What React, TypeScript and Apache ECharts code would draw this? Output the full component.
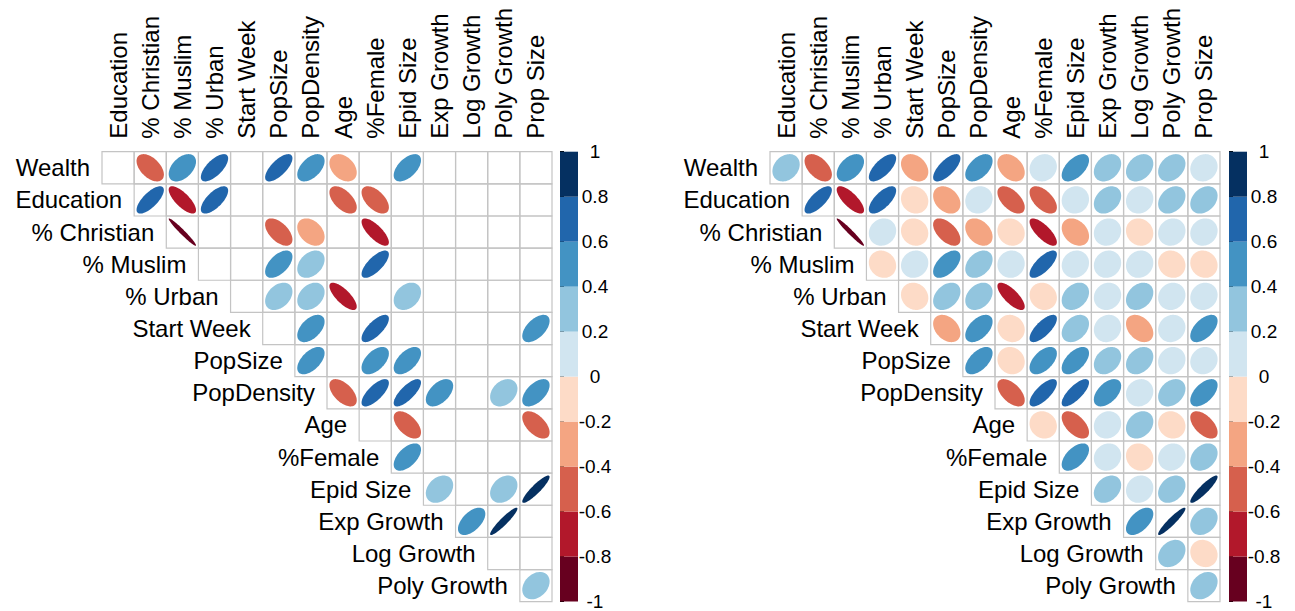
import React, { useEffect, useRef } from "react";
import * as echarts from "echarts";

const FONT = "'Liberation Sans', Arial, sans-serif";

const colNames = ["Education", "% Christian", "% Muslim", "% Urban", "Start Week", "PopSize", "PopDensity", "Age", "%Female", "Epid Size", "Exp Growth", "Log Growth", "Poly Growth", "Prop Size"];
const rowNames = ["Wealth", "Education", "% Christian", "% Muslim", "% Urban", "Start Week", "PopSize", "PopDensity", "Age", "%Female", "Epid Size", "Exp Growth", "Log Growth", "Poly Growth"];

// correlations, upper triangle: row i starts at column i
const wealth = [0.25, -0.5, 0.45, 0.68, -0.3, 0.7, 0.5, -0.35, 0.1, 0.55, 0.3, 0.3, 0.3, 0.1];
const education = [0.72, -0.75, 0.68, -0.1, -0.3, 0.1, -0.55, -0.55, 0.05, 0.3, 0.1, 0.3, 0.3];
const christian = [-0.97, 0.1, -0.1, -0.55, -0.35, -0.1, -0.75, -0.3, 0.1, -0.1, 0.1, 0.1];
const muslim = [-0.12, 0.1, 0.55, 0.35, 0.05, 0.72, 0.1, 0.1, 0.1, -0.1, -0.1];
const urban = [-0.12, 0.35, 0.32, -0.75, -0.1, 0.3, 0.1, 0.28, 0.1, 0.1];
const startWeek = [-0.35, 0.5, -0.1, 0.72, 0.35, 0.1, -0.35, 0.1, 0.55];
const popSize = [0.55, -0.1, 0.52, 0.55, 0.3, 0.3, 0.1, 0.1];
const popDensity = [-0.55, 0.72, 0.75, 0.5, 0.1, 0.3, 0.55];
const age = [-0.1, -0.55, 0.1, 0.25, -0.1, -0.55];
const female = [0.55, 0.1, -0.1, 0.1, 0.3];
const epidSize = [0.3, 0.1, 0.3, 0.9];
const expGrowth = [0.55, 0.93, 0.28];
const logGrowth = [0.28, -0.12];
const polyGrowth = [0.3];
const corrRows = [wealth, education, christian, muslim, urban, startWeek, popSize, popDensity, age, female, epidSize, expGrowth, logGrowth, polyGrowth];

// significant cells (column indices) shown in the left panel
const sigWealth = [1, 2, 3, 5, 6, 7, 9];
const sigEducation = [1, 2, 3, 7, 8];
const sigChristian = [2, 5, 6, 8];
const sigMuslim = [5, 6, 8];
const sigUrban = [5, 6, 7, 9];
const sigStartWeek = [6, 8, 13];
const sigPopSize = [6, 8, 9];
const sigPopDensity = [7, 8, 9, 10, 12, 13];
const sigAge = [9, 13];
const sigFemale = [9];
const sigEpidSize = [10, 12, 13];
const sigExpGrowth = [11, 12];
const sigLogGrowth: number[] = [];
const sigPolyGrowth = [13];
const sigRows = [sigWealth, sigEducation, sigChristian, sigMuslim, sigUrban, sigStartWeek, sigPopSize, sigPopDensity, sigAge, sigFemale, sigEpidSize, sigExpGrowth, sigLogGrowth, sigPolyGrowth];

const legendTicks = [-1, -0.8, -0.6, -0.4, -0.2, 0, 0.2, 0.4, 0.6, 0.8, 1];
const binColors = ["#67001F", "#B2182B", "#D6604D", "#F4A582", "#FDDBC7", "#D1E5F0", "#92C5DE", "#4393C3", "#2166AC", "#053061"];

function colorFor(r: number): string {
  let k = Math.floor((r + 1) / 0.2);
  if (k < 0) k = 0;
  if (k > 9) k = 9;
  return binColors[k];
}

function cellData(panel: number) {
  const out: any[] = [];
  corrRows.forEach((row, i) => {
    row.forEach((r, k) => {
      const j = i + k;
      const shown = panel === 1 || sigRows[i].indexOf(j) >= 0 ? 1 : 0;
      out.push([j, i, r, shown]);
    });
  });
  return out;
}

const cellRender = (params: any, api: any) => {
  const j = api.value(0);
  const i = api.value(1);
  const r = api.value(2);
  const shown = api.value(3);
  const c = api.coord([j, i]);
  const s = api.size([1, 1]);
  const w = s[0];
  const h = s[1];
  const children: any[] = [
    {
      type: "rect",
      shape: { x: c[0] - w / 2, y: c[1] - h / 2, width: w, height: h },
      style: { fill: "transparent", stroke: "#C4C4C4", lineWidth: 1.2 },
    },
  ];
  if (shown) {
    const a = Math.acos(Math.max(-1, Math.min(1, r)));
    const pts: number[][] = [];
    const n = 80;
    for (let k = 0; k < n; k++) {
      const t = (k / n) * 2 * Math.PI;
      pts.push([c[0] + 0.425 * Math.cos(t + a / 2) * w, c[1] - 0.425 * Math.cos(t - a / 2) * h]);
    }
    children.push({ type: "polygon", shape: { points: pts }, style: { fill: colorFor(r), stroke: null } });
  }
  return { type: "group", children };
};

const textStyle = (text: string, align: string) => ({
  text,
  fontSize: 24,
  fontFamily: FONT,
  fill: "#000",
  align,
  verticalAlign: "middle",
  textAlign: align,
  textVerticalAlign: "middle",
});

const rowLabelRender = (params: any, api: any) => {
  const i = api.value(1);
  const c = api.coord([i, i]);
  const s = api.size([1, 1]);
  return {
    type: "text",
    x: c[0] - s[0] / 2 - 12,
    y: c[1],
    style: textStyle(rowNames[params.dataIndex], "right"),
  };
};

const colLabelRender = (params: any, api: any) => {
  const j = api.value(0);
  const c = api.coord([j, 0]);
  const s = api.size([1, 1]);
  return {
    type: "text",
    x: c[0],
    y: c[1] - s[1] / 2 - 13,
    rotation: Math.PI / 2,
    style: textStyle(colNames[params.dataIndex], "left"),
  };
};

const binRender = (params: any, api: any) => {
  const lo = api.value(0);
  const hi = api.value(1);
  const p1 = api.coord([0, hi]);
  const p2 = api.coord([1, lo]);
  return {
    type: "rect",
    shape: { x: p1[0], y: p1[1], width: p2[0] - p1[0], height: p2[1] - p1[1] },
    style: { fill: binColors[params.dataIndex], stroke: null },
  };
};

const binData = binColors.map((_, k) => [legendTicks[k], legendTicks[k + 1]]);
const rowLabelData = rowNames.map((_, i) => [i, i]);
const colLabelData = colNames.map((_, j) => [j, 0]);

export default function App() {
  const ref = useRef<HTMLDivElement>(null);
  useEffect(() => {
    if (!ref.current) return;
    const chart = echarts.init(ref.current, null, { renderer: "svg" });
    const TOP = 151.7;
    const SIZE = 450;
    const matrixGrids = [
      { left: 102, top: TOP, width: SIZE, height: SIZE },
      { left: 770, top: TOP, width: SIZE, height: SIZE },
    ];
    const barGrids = [
      { left: 560, top: TOP, width: 18, height: SIZE },
      { left: 1229, top: TOP, width: 18, height: SIZE },
    ];
    const xAxes: any[] = [];
    const yAxes: any[] = [];
    const series: any[] = [];
    [0, 1].forEach((p) => {
      xAxes.push({
        type: "category",
        gridIndex: p,
        data: colNames,
        show: false,
      });
      yAxes.push({
        type: "category",
        gridIndex: p,
        data: rowNames,
        inverse: true,
        show: false,
      });
      series.push({ type: "custom", xAxisIndex: p, yAxisIndex: p, data: cellData(p), renderItem: cellRender, silent: true });
      series.push({ type: "custom", xAxisIndex: p, yAxisIndex: p, data: rowLabelData, renderItem: rowLabelRender, silent: true });
      series.push({ type: "custom", xAxisIndex: p, yAxisIndex: p, data: colLabelData, renderItem: colLabelRender, silent: true });
    });
    [0, 1].forEach((p) => {
      const gi = 2 + p;
      xAxes.push({ type: "value", gridIndex: gi, min: 0, max: 1, show: false });
      yAxes.push({
        type: "value",
        gridIndex: gi,
        min: -1,
        max: 1,
        interval: 0.2,
        position: "right",
        axisLine: { show: true, lineStyle: { color: "#000", width: 1 } },
        axisTick: { show: true, length: 4, lineStyle: { color: "#000", width: 1 } },
        splitLine: { show: false },
        axisLabel: {
          fontSize: 19,
          color: "#000",
          fontFamily: FONT,
          margin: 17,
          align: "center",
          formatter: (v: number) => String(Math.round(v * 10) / 10),
        },
      });
      series.push({ type: "custom", xAxisIndex: gi, yAxisIndex: gi, data: binData, renderItem: binRender, silent: true, z: 1 });
    });
    chart.setOption({
      animation: false,
      backgroundColor: "#fff",
      grid: [...matrixGrids, ...barGrids],
      xAxis: xAxes,
      yAxis: yAxes,
      series,
    });
    return () => chart.dispose();
  }, []);
  return <div ref={ref} style={{ position: "absolute", left: 0, top: 0, width: 1295, height: 611 }} />;
}
